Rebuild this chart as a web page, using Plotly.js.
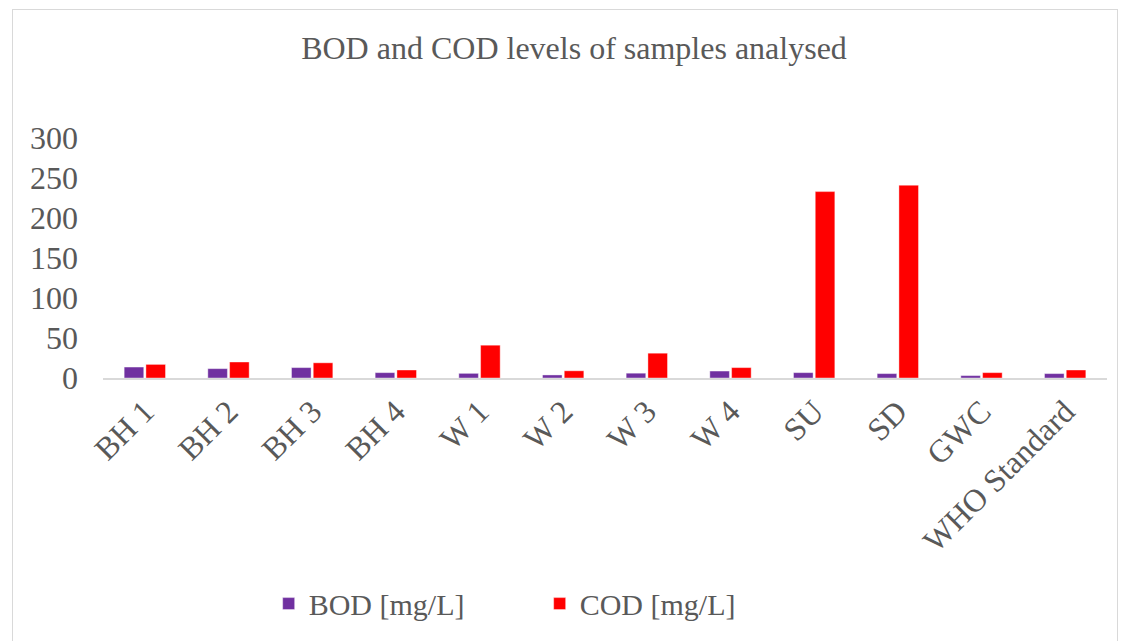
<!DOCTYPE html>
<html>
<head>
<meta charset="utf-8">
<script src="https://cdn.plot.ly/plotly-3.0.1.min.js"></script>
<style>
  html, body { margin: 0; padding: 0; background: #fff; }
  #wrap { position: relative; width: 1126px; height: 641px; overflow: hidden; }
  #chart { position: absolute; left: 0; top: 0; width: 1126px; height: 641px; }
  #frame { position: absolute; left: 12px; top: 9px; width: 1104px; height: 660px; border: 1px solid #d9d9d9; pointer-events: none; }
</style>
</head>
<body>
<div id="wrap">
  <div id="chart"></div>
  <div id="frame"></div>
</div>
<script>
const categories = ["BH 1", "BH 2", "BH 3", "BH 4", "W 1", "W 2", "W 3", "W 4", "SU", "SD", "GWC", "WHO Standard"];
const bodValues = [13.7, 11.7, 13, 6.7, 5.8, 3.8, 6, 8.7, 6.7, 5.5, 3, 5.5];
const codValues = [17, 20, 19, 10, 41, 9, 31, 13, 233, 241, 6.7, 10];
const yTickValues = [0, 50, 100, 150, 200, 250, 300];
const chartTitle = "BOD and COD levels of samples analysed";
const bodName = "BOD [mg/L]";
const codName = "COD [mg/L]";

const fontFam = "Liberation Serif, Times New Roman, serif";
const textColor = "#595959";

const traces = [
  { type: "bar", name: bodName, x: categories, y: bodValues,
    marker: { color: "#7030A0", line: { color: "rgba(255,255,255,0.4)", width: 1 } }, hoverinfo: "x+y" },
  { type: "bar", name: codName, x: categories, y: codValues,
    marker: { color: "#FF0000", line: { color: "rgba(255,255,255,0.4)", width: 1 } }, hoverinfo: "x+y" }
];

const layout = {
  width: 1126, height: 641,
  margin: { l: 103, r: 19, t: 138, b: 263 },
  paper_bgcolor: "rgba(0,0,0,0)", plot_bgcolor: "rgba(0,0,0,0)",
  font: { family: fontFam, color: textColor, size: 30 },
  title: { text: chartTitle, font: { family: fontFam, size: 32, color: textColor },
           x: 574 / 1126, xref: "container", xanchor: "center", y: 0.925, yref: "container", yanchor: "middle" },
  barmode: "group", bargap: 0.48, bargroupgap: 0.1,
  xaxis: {
    type: "category", tickangle: -45, showgrid: false, zeroline: false,
    showline: true, linecolor: "#d9d9d9", linewidth: 2,
    ticks: "", tickfont: { family: fontFam, size: 32, color: textColor }, automargin: false
  },
  yaxis: {
    range: [0, 300], tickvals: yTickValues, ticktext: yTickValues.map(String),
    showgrid: false, zeroline: false, showline: false, ticks: "",
    tickfont: { family: fontFam, size: 32, color: textColor }, ticklabelstandoff: 24, automargin: false
  },
  showlegend: true,
  legend: {
    orientation: "h", x: 0.165, xanchor: "left", y: -0.94, yanchor: "middle",
    entrywidth: 226, entrywidthmode: "pixels",
    font: { family: fontFam, size: 30, color: textColor }, bgcolor: "rgba(0,0,0,0)"
  }
};

Plotly.newPlot("chart", traces, layout, { displayModeBar: false, staticPlot: true });
</script>
</body>
</html>
